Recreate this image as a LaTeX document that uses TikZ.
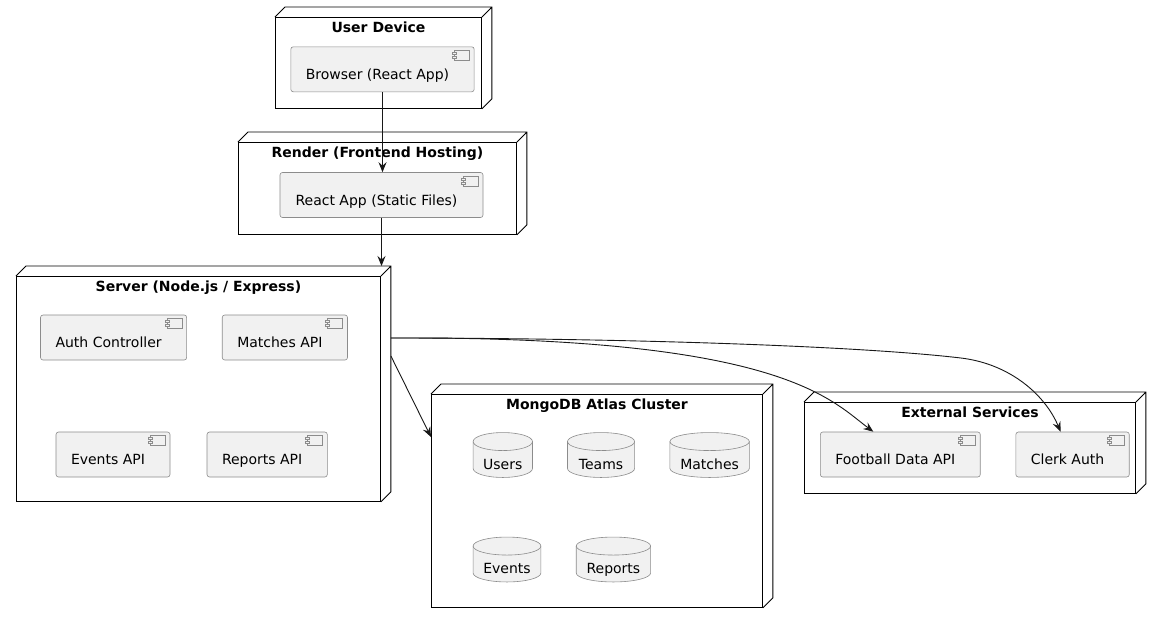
\documentclass[tikz,border=0pt]{standalone}
\usepackage{fontspec}
\setmainfont{DejaVu Sans}
\usetikzlibrary{arrows.meta, positioning, math, calc}
\definecolor{compfill}{HTML}{F1F1F1}
\definecolor{compline}{HTML}{8C8C8C}
\definecolor{arrowline}{HTML}{181818}
\pgfdeclarelayer{back}
\pgfsetlayers{back,main}

\begin{document}
\begin{tikzpicture}[x=1pt, y=-1pt]
	\tikzmath{
		\nodeDepth = 10;   %3d depth of the deployment nodes
		\gapX      = 35;   %dist between boxes in a row
		\capR      = 9;    %y radius of the database caps
	}
	\tikzstyle{Box} = [
		draw=black,
		line width=0.9pt,
		inner sep=0pt,
		anchor=north west
	]
	\tikzstyle{Title} = [anchor=base, yshift=-15.5pt, inner sep=0pt, font=\fontsize{14pt}{17pt}\selectfont\bfseries]
	\tikzstyle{Comp} = [
		draw=compline,
		line width=0.6pt,
		fill=compfill,
		rounded corners=2.5pt,
		minimum height=45pt,
		inner xsep=15pt,
		inner ysep=0pt,
		text height=20pt,
		text depth=0pt,
		font=\fontsize{14pt}{17pt}\selectfont
	]
	\tikzstyle{Db} = [minimum height=44.5pt, inner sep=0pt, text height=28pt, text depth=0pt, font=\fontsize{14pt}{17pt}\selectfont]
	\tikzstyle{DbLine} = [draw=compline, line width=0.6pt, fill=compfill]
	\tikzstyle{Link} = [draw=arrowline, line width=0.9pt, -{Stealth[length=10pt,width=8pt,inset=3.5pt]}]

	\useasboundingbox (0,0) rectangle (1161,622);
	\begin{pgfonlayer}{back}
		\fill[white] (0,0) rectangle (1161,622);
	\end{pgfonlayer}

	%%%%%%%%%%%%%%%%%%%%%%%%%%===---DEPLOYMENT NODES---===%%%%%%%%%%%%%%%%%%%%%%%%%%
	\node (device)   [Box, minimum width=206pt, minimum height=91pt,  label={[Title]north:User Device}]                at (275,17)  {};
	\node (render)   [Box, minimum width=278pt, minimum height=92pt,  label={[Title]north:Render (Frontend Hosting)}]  at (238,142) {};
	\node (server)   [Box, minimum width=364pt, minimum height=225pt, label={[Title]north:Server (Node.js / Express)}] at (16,276)  {};
	\node (mongo)    [Box, minimum width=331pt, minimum height=213pt, label={[Title]north:MongoDB Atlas Cluster}]      at (431,394) {};
	\node (external) [Box, minimum width=331pt, minimum height=91pt,  label={[Title]north:External Services}]          at (804,402) {};

	\foreach \c in {device,render,server,mongo,external}{
		\draw[line width=0.9pt] (\c.north west) -- ++(\nodeDepth pt,\nodeDepth pt)
			-| ([shift={(\nodeDepth pt,\nodeDepth pt)}]\c.south east) -- (\c.south east)
			(\c.north east) -- ++(\nodeDepth pt,\nodeDepth pt);
	}

	%%%%%%%%%%%%%%%%%%%%%%%%%%===---COMPONENTS---===%%%%%%%%%%%%%%%%%%%%%%%%%%
	\node (browser)    [Comp, minimum width=183pt] at (382.5,69.3)                {Browser (React App)\kern10pt};
	\node (reactapp)   [Comp, minimum width=203pt] at (381.5,195)                 {React App (Static Files)\kern10pt};
		\node (authctl)    [Comp, minimum width=146pt] at (113.6,337.5)               {Auth Controller\kern10pt};
		\node (matchesapi) [Comp, minimum width=124pt, right=\gapX pt of authctl]     {Matches API\kern10pt};
		\node (eventsapi)  [Comp, minimum width=113pt] at (113,454.5)                 {Events API\kern10pt};
		\node (reportsapi) [Comp, minimum width=120pt, right=36.4pt of eventsapi]     {Reports API\kern10pt};
	\node (football)   [Comp, minimum width=159pt] at (900.3,454.5)               {Football Data API\kern10pt};
	\node (clerk)      [Comp, minimum width=113pt, right=\gapX pt of football]    {Clerk Auth\kern10pt};

	\foreach \c in {browser,reactapp,authctl,matchesapi,eventsapi,reportsapi,football,clerk}{
		\draw[draw=compline, line width=0.6pt] ([shift={(-20pt,-4pt)}]\c.north east) rectangle ([shift={(-5pt,-14pt)}]\c.north east);
		\draw[draw=compline, line width=0.6pt, fill=compfill] ([shift={(-22pt,-6pt)}]\c.north east) rectangle ([shift={(-18pt,-8pt)}]\c.north east);
		\draw[draw=compline, line width=0.6pt, fill=compfill] ([shift={(-22pt,-10pt)}]\c.north east) rectangle ([shift={(-18pt,-12pt)}]\c.north east);
	}

	%%%%%%%%%%%%%%%%%%%%%%%%%%===---DATABASES---===%%%%%%%%%%%%%%%%%%%%%%%%%%
	\node (users)     [Db, minimum width=59pt] at (502.8,455)          {Users};
	\node (teams)     [Db, minimum width=66.7pt, right=\gapX pt of users] {Teams};
	\node (dbmatches) [Db, minimum width=79pt, right=35.3pt of teams]  {Matches};
	\node (events)    [Db, minimum width=67.4pt] at (507,559.5)        {Events};
	\node (reports)   [Db, minimum width=74pt, right=35.3pt of events] {Reports};

	\begin{pgfonlayer}{back}
	\foreach \d in {users,teams,dbmatches,events,reports}{
		\path[DbLine] let \p1=(\d.north west), \p2=(\d.south east), \n1={(\x2-\x1)/2} in
			(\x1,\y1-\capR pt) -- (\x1,\y2+\capR pt)
			arc[start angle=180, end angle=360, x radius=\n1, y radius=\capR pt]
			-- (\x2,\y1-\capR pt)
			arc[start angle=0, end angle=180, x radius=\n1, y radius=\capR pt] -- cycle;
		\draw[draw=compline, line width=0.6pt] let \p1=(\d.north west), \p2=(\d.south east), \n1={(\x2-\x1)/2} in
			(\x1,\y1-\capR pt) arc[start angle=180, end angle=360, x radius=\n1, y radius=\capR pt];
	}
	\end{pgfonlayer}

	%%%%%%%%%%%%%%%%%%%%%%%%%%===---LINKS---===%%%%%%%%%%%%%%%%%%%%%%%%%%
	\draw[Link] (browser.south) -- (browser.south |- reactapp.north);
	\draw[Link] (reactapp.south) -- ([yshift=\nodeDepth pt]reactapp.south |- server.north);
	\draw[Link] ([shift={(\nodeDepth pt,-80pt)}]server.north east) -- ([yshift=-43pt]mongo.north west);
	\draw[Link] ([shift={(\nodeDepth pt,-62pt)}]server.north east)
		.. controls +(390,-2) and +(-43,-32) .. ([xshift=-27pt]football.north);
	\draw[Link] ([shift={(\nodeDepth pt,-62pt)}]server.north east)
		.. controls +(210,0) and +(-110,-13) .. ++(570,20)
		.. controls +(50,6) and +(-15,-36) .. ([xshift=-12pt]clerk.north);
\end{tikzpicture}
\end{document}
